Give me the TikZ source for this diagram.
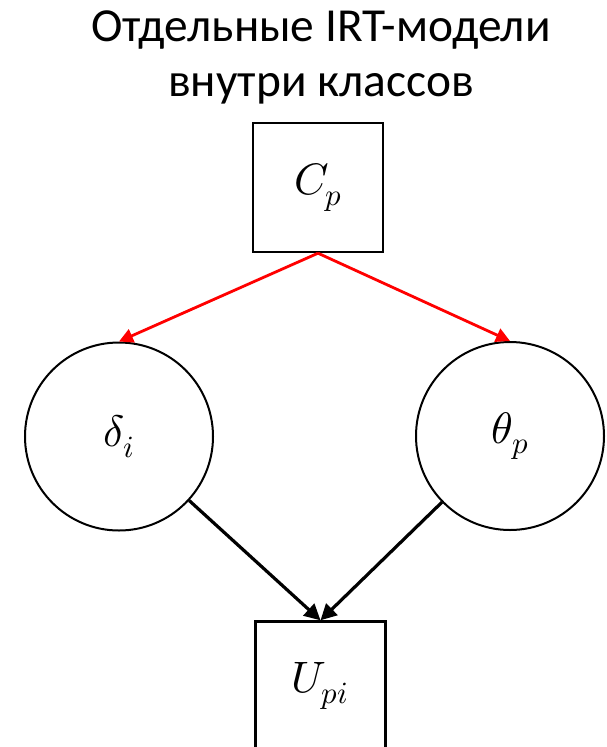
\documentclass[tikz,border=0pt]{standalone}
\usepackage{fontspec}
\usepackage{unicode-math}
\setmainfont{Carlito}
\setmathfont{Latin Modern Math}
\usetikzlibrary{arrows.meta}
\begin{document}
\begin{tikzpicture}[x=1pt,y=-1pt,
  boxnode/.style={draw=black,line width=2.4pt,minimum width=130pt,minimum height=129pt,inner sep=0pt,font=\fontsize{44}{52}\selectfont},
  circnode/.style={draw=black,line width=2pt,circle,minimum size=188pt,inner sep=0pt,font=\fontsize{44}{52}\selectfont},
  redarrow/.style={draw=red,line width=2.8pt,-{Triangle[length=14pt,width=14pt]}},
  blackarrow/.style={draw=black,line width=3.2pt,-{Triangle[length=16pt,width=16pt]}},
  titlenode/.style={font=\fontsize{47.4}{55}\selectfont,align=center,inner sep=0pt}]
\useasboundingbox (0,0) rectangle (607,747);
\begin{scope}
\clip (0,0) rectangle (607,747);
\node[titlenode,anchor=north] (title) at (321,11) {Отдельные IRT-модели\\внутри классов};
\node[boxnode] (c) at (318,187.5) {$C_p$};
\node[circnode] (d) at (119,436.5) {$\delta_i$};
\node[circnode] (t) at (510,436) {$\theta_p$};
\node[boxnode] (u) at (320.5,686) {$U_{pi}$};
\draw[redarrow] (c.south) -- (d.north);
\draw[redarrow] (c.south) -- (t.north);
\draw[blackarrow] (d) -- (u.north);
\draw[blackarrow] (t) -- (u.north);
\end{scope}
\end{tikzpicture}
\end{document}
